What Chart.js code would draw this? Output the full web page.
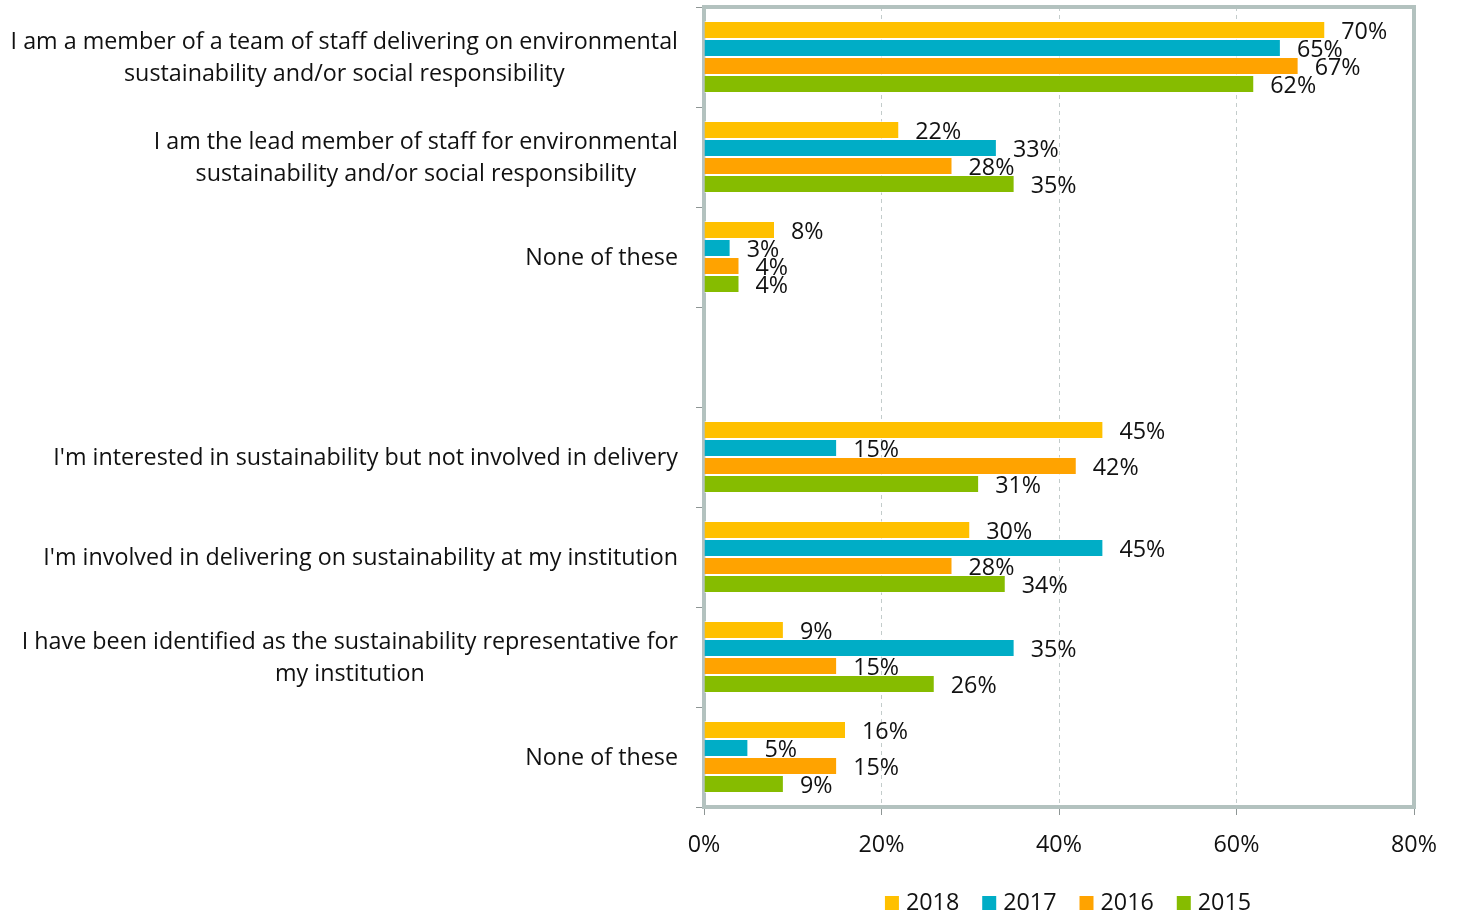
<!DOCTYPE html>
<html>
<head>
<meta charset="utf-8">
<script src="https://cdn.jsdelivr.net/npm/chart.js@4.4.1/dist/chart.umd.min.js"></script>
<style>
  body { margin: 0; background: #fff; }
</style>
</head>
<body>
<canvas id="roleChart" width="1457" height="914"></canvas>
<script>
// survey answers, top to bottom (index 3 is an empty spacer row)
const categories = [
  ["I am a member of a team of staff delivering on environmental", "sustainability and/or social responsibility"],
  ["I am the lead member of staff for environmental", "sustainability and/or social responsibility"],
  ["None of these"],
  [""],
  ["I'm interested in sustainability but not involved in delivery"],
  ["I'm involved in delivering on sustainability at my institution"],
  ["I have been identified as the sustainability representative for", "my institution"],
  ["None of these"]
];
const years = ["2018", "2017", "2016", "2015"];
const values2018 = [70, 22, 8, null, 45, 30, 9, 16];
const values2017 = [65, 33, 3, null, 15, 45, 35, 5];
const values2016 = [67, 28, 4, null, 42, 28, 15, 15];
const values2015 = [62, 35, 4, null, 31, 34, 26, 9];
const xTicks = [0, 20, 40, 60, 80];

const colours = ["#FFC000", "#00ADC6", "#FFA300", "#86BC00"];
const FONT = "'Open Sans', sans-serif";
const FONT_SIZE = 23.3;
const frameColour = "#B3C2BF";

// gray box around the plot area, drawn over the grid but under the bars
const framePlugin = {
  id: "frame",
  beforeDatasetsDraw(chart) {
    const { ctx, chartArea: a } = chart;
    ctx.save();
    ctx.strokeStyle = frameColour;
    ctx.lineWidth = 4;
    ctx.strokeRect(a.left, a.top, a.right - a.left, a.bottom - a.top);
    ctx.restore();
  }
};

// percentage text just past the end of every bar
const valueLabels = {
  id: "valueLabels",
  afterDatasetsDraw(chart) {
    const { ctx } = chart;
    ctx.save();
    ctx.font = FONT_SIZE + "px " + FONT;
    ctx.fillStyle = "#111";
    ctx.textAlign = "left";
    ctx.textBaseline = "middle";
    chart.data.datasets.forEach((ds, di) => {
      chart.getDatasetMeta(di).data.forEach((bar, i) => {
        const v = ds.data[i];
        if (v == null) return;
        ctx.fillText(v + "%", bar.x + 16, bar.y + 2);
      });
    });
    ctx.restore();
  }
};

// category text: block right-aligned to the axis, lines centred inside the block
const categoryLabels = {
  id: "categoryLabels",
  afterDraw(chart) {
    const { ctx } = chart;
    const y = chart.scales.y;
    const right = chart.chartArea.left - 26;
    const lineH = 32;
    ctx.save();
    ctx.font = FONT_SIZE + "px " + FONT;
    ctx.fillStyle = "#111";
    ctx.textAlign = "center";
    ctx.textBaseline = "middle";
    categories.forEach((lines, i) => {
      const w = Math.max(...lines.map(l => ctx.measureText(l).width));
      const cx = right - w / 2;
      const cy = y.getPixelForValue(i) + 1;
      const y0 = cy - (lines.length - 1) * lineH / 2;
      lines.forEach((l, k) => ctx.fillText(l, cx, y0 + k * lineH));
    });
    ctx.restore();
  }
};

// legend row under the axis
const bottomLegend = {
  id: "bottomLegend",
  afterDraw(chart) {
    const { ctx, chartArea: a } = chart;
    const box = 14, gapText = 7, gapItem = 23;
    ctx.save();
    ctx.font = FONT_SIZE + "px " + FONT;
    ctx.textBaseline = "middle";
    ctx.textAlign = "left";
    const widths = years.map(t => ctx.measureText(t).width);
    let total = 0;
    widths.forEach(w => total += box + gapText + w);
    total += gapItem * (years.length - 1);
    let x = (a.left + a.right) / 2 + 9 - total / 2;
    const cy = 903;
    years.forEach((t, i) => {
      ctx.fillStyle = colours[i];
      ctx.fillRect(x, cy - box / 2, box, box);
      ctx.fillStyle = "#111";
      ctx.fillText(t, x + box + gapText, cy);
      x += box + gapText + widths[i] + gapItem;
    });
    ctx.restore();
  }
};

const seriesValues = [values2018, values2017, values2016, values2015];

new Chart(document.getElementById("roleChart"), {
  type: "bar",
  data: {
    labels: categories.map(c => c.join(" ")),
    datasets: years.map((yr, i) => ({
      label: yr,
      data: seriesValues[i],
      backgroundColor: colours[i],
      borderColor: "rgba(255,255,255,0.6)",
      borderWidth: 1,
      borderSkipped: "left",
      categoryPercentage: 0.72,
      barPercentage: 1
    }))
  },
  options: {
    indexAxis: "y",
    responsive: false,
    animation: false,
    layout: { padding: { left: 0, right: 43, top: 7, bottom: 0 } },
    plugins: {
      legend: { display: false },
      tooltip: { enabled: false }
    },
    scales: {
      x: {
        min: 0,
        max: 80,
        afterBuildTicks(scale) {
          scale.ticks = xTicks.map(v => ({ value: v }));
        },
        afterFit(scale) { scale.height = 107; },
        ticks: {
          font: { family: FONT, size: FONT_SIZE },
          color: "#111",
          padding: 16,
          callback: v => v + "%"
        },
        grid: {
          color: ctx => (ctx.tick && (ctx.tick.value === 0 || ctx.tick.value === 80)) ? "rgba(0,0,0,0)" : "#C3CCCB",
          lineWidth: 1,
          tickColor: "#8E9695",
          tickLength: 8
        },
        border: { display: false, dash: [4, 4] }
      },
      y: {
        afterFit(scale) { scale.width = 704; },
        ticks: { display: false },
        grid: {
          offset: true,
          drawOnChartArea: false,
          tickColor: "#8E9695",
          tickLength: 8
        },
        border: { display: false }
      }
    }
  },
  plugins: [framePlugin, valueLabels, categoryLabels, bottomLegend]
});
</script>
</body>
</html>
